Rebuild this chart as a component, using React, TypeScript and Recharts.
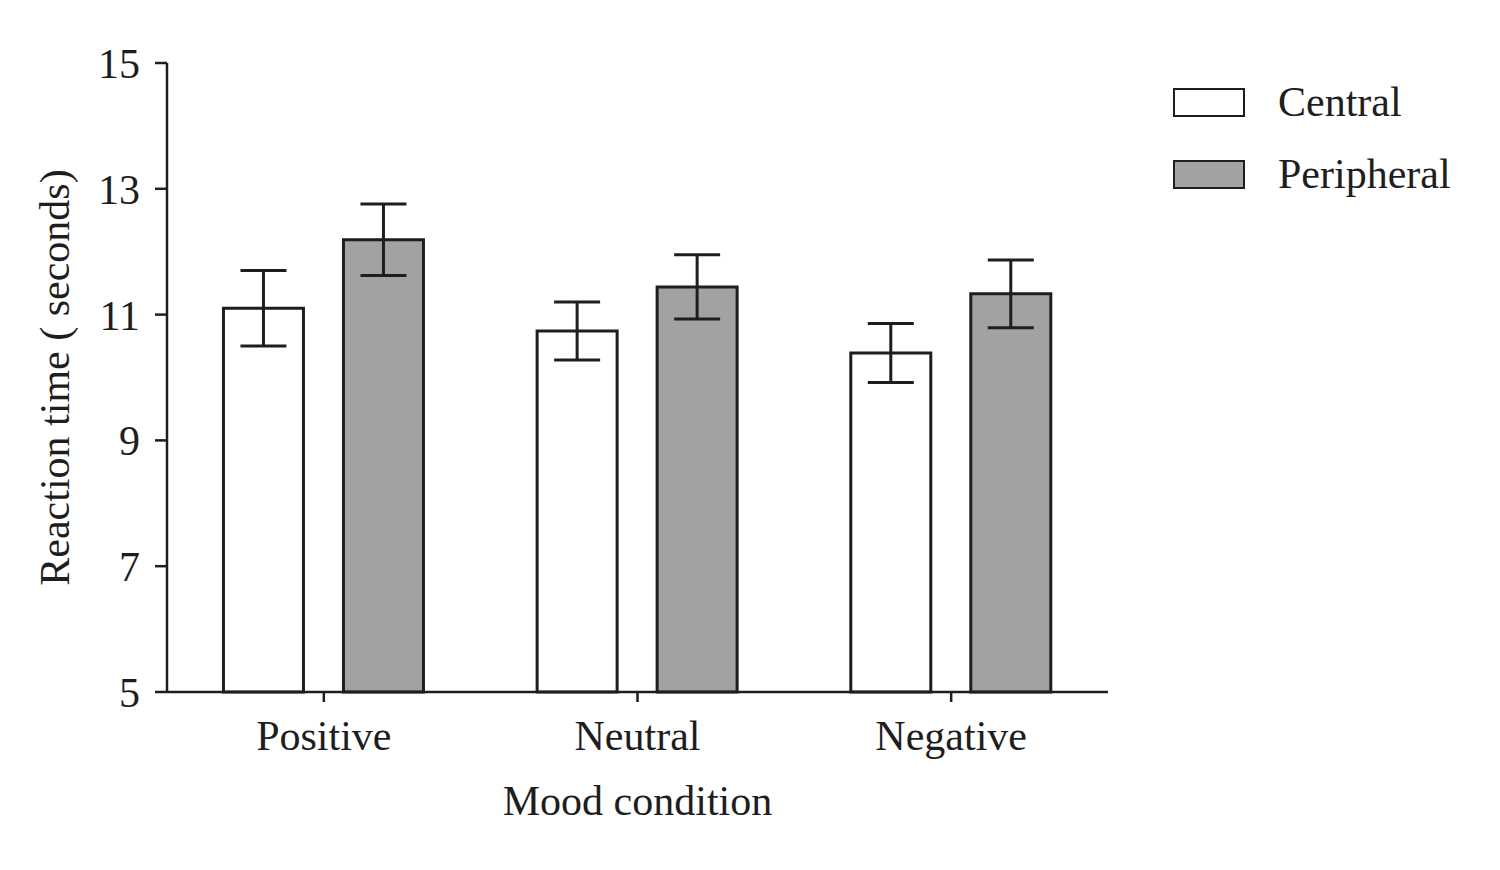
import React from "react";
import { BarChart, Bar, XAxis, YAxis, ErrorBar } from "recharts";

const conditions = ["Positive", "Neutral", "Negative"];
const centralMeans = [11.1, 10.74, 10.39];
const centralErrors = [0.6, 0.46, 0.47];
const peripheralMeans = [12.19, 11.44, 11.33];
const peripheralErrors = [0.57, 0.51, 0.54];
const yTicks = [5, 7, 9, 11, 13, 15];

const data = conditions.map((name, i) => ({
  name,
  central: centralMeans[i],
  centralErr: centralErrors[i],
  peripheral: peripheralMeans[i],
  peripheralErr: peripheralErrors[i],
}));

const FONT = "'Liberation Serif', 'Times New Roman', serif";
const INK = "#1e1e1e";
const GREY = "#a2a2a2";

// legend sits outside the svg so it doesn't eat into the plot width
function LegendBox() {
  const items = [
    { label: "Central", fill: "#ffffff" },
    { label: "Peripheral", fill: GREY },
  ];
  return (
    <div style={{ position: "absolute", left: 1173, top: 66, fontFamily: FONT, color: INK }}>
      {items.map((it) => (
        <div key={it.label} style={{ display: "flex", alignItems: "center", height: 72 }}>
          <div
            style={{
              width: 68,
              height: 25,
              background: it.fill,
              border: `2.5px solid ${INK}`,
              marginRight: 33,
            }}
          />
          <span style={{ fontSize: 42 }}>{it.label}</span>
        </div>
      ))}
    </div>
  );
}

export default function App() {
  return (
    <div style={{ position: "absolute", left: 0, top: 0, width: 1500, height: 870, background: "#fff" }}>
      <BarChart
        width={1500}
        height={870}
        data={data}
        margin={{ top: 63, right: 392, bottom: 0, left: 0 }}
        barGap={40}
        barCategoryGap="18%"
      >
        <XAxis
          dataKey="name"
          height={178}
          stroke={INK}
          strokeWidth={2.5}
          tickSize={10}
          tickMargin={18}
          tick={{ fontFamily: FONT, fontSize: 42, fill: INK }}
          label={({ viewBox }: any) => (
            <text
              x={viewBox.x + viewBox.width / 2}
              y={viewBox.y + 123}
              textAnchor="middle"
              fontFamily={FONT}
              fontSize={42}
              fill={INK}
            >
              Mood condition
            </text>
          )}
        />
        <YAxis
          width={167}
          domain={[5, 15]}
          ticks={yTicks}
          interval={0}
          stroke={INK}
          strokeWidth={2.5}
          tickSize={12}
          tickMargin={15}
          tick={{ fontFamily: FONT, fontSize: 42, fill: INK }}
          label={({ viewBox }: any) => {
            const cx = viewBox.x + 55;
            const cy = viewBox.y + viewBox.height / 2;
            return (
              <text
                x={cx}
                y={cy}
                transform={`rotate(-90 ${cx} ${cy})`}
                textAnchor="middle"
                dominantBaseline="central"
                fontFamily={FONT}
                fontSize={42}
                fill={INK}
              >
                Reaction time ( seconds)
              </text>
            );
          }}
        />
        <Bar dataKey="central" name="Central" fill="#ffffff" stroke={INK} strokeWidth={3} isAnimationActive={false}>
          <ErrorBar dataKey="centralErr" width={23} stroke={INK} strokeWidth={3} />
        </Bar>
        <Bar dataKey="peripheral" name="Peripheral" fill={GREY} stroke={INK} strokeWidth={3} isAnimationActive={false}>
          <ErrorBar dataKey="peripheralErr" width={23} stroke={INK} strokeWidth={3} />
        </Bar>
      </BarChart>
      <LegendBox />
    </div>
  );
}
